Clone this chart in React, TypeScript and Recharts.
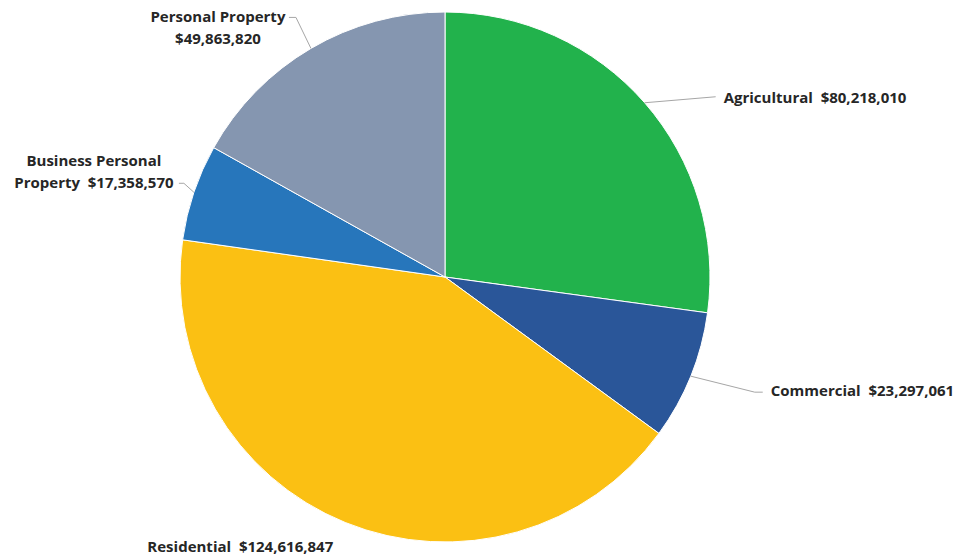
import { PieChart, Pie, Cell } from "recharts";

const categories = ["Agricultural", "Commercial", "Residential", "Business Personal Property", "Personal Property"];
const values = [80218010, 23297061, 124616847, 17358570, 49863820];
const colors = ["#22b24c", "#2a5699", "#fbc013", "#2776bb", "#8596b0"];

const data = categories.map((name, i) => ({ name, value: values[i] }));

const fmt = (v: number) => "$" + v.toLocaleString("en-US");
const gap = "\u00a0 ";

const RAD = Math.PI / 180;
const textStyle = { fontFamily: "'Open Sans', sans-serif", fontWeight: 700, fontSize: 15, fill: "#262626" } as const;
const lineColor = "#a6a6a6";

function renderLabel(props: any) {
  const { cx, cy, midAngle, outerRadius, index } = props;
  const ex = cx + outerRadius * Math.cos(-midAngle * RAD);
  const ey = cy + outerRadius * Math.sin(-midAngle * RAD);
  const name = categories[index];
  const val = fmt(values[index]);

  if (index === 0) {
    return (
      <g>
        <polyline points={`${ex},${ey} ${ex + 71},${ey - 6}`} stroke={lineColor} fill="none" />
        <text x={ex + 79} y={ey - 6} dominantBaseline="central" style={textStyle}>{name + gap + val}</text>
      </g>
    );
  }
  if (index === 1) {
    return (
      <g>
        <polyline points={`${ex},${ey} ${ex + 64},${ey + 16} ${ex + 72},${ey + 16}`} stroke={lineColor} fill="none" />
        <text x={ex + 80} y={ey + 14} dominantBaseline="central" style={textStyle}>{name + gap + val}</text>
      </g>
    );
  }
  if (index === 2) {
    return (
      <text x={ex - 12} y={ey + 24} textAnchor="end" dominantBaseline="central" style={textStyle}>{name + gap + val}</text>
    );
  }
  if (index === 3) {
    return (
      <g>
        <polyline points={`${ex},${ey} ${ex - 10},${ey - 9} ${ex - 15},${ey - 9}`} stroke={lineColor} fill="none" />
        <text x={ex - 100} y={ey - 32} textAnchor="middle" dominantBaseline="central" style={textStyle}>Business Personal</text>
        <text x={ex - 100} y={ey - 10} textAnchor="middle" dominantBaseline="central" style={textStyle}>{"Property" + gap + val}</text>
      </g>
    );
  }
  return (
    <g>
      <polyline points={`${ex},${ey} ${ex - 15},${ey - 31} ${ex - 22},${ey - 31}`} stroke={lineColor} fill="none" />
      <text x={ex - 93} y={ey - 32} textAnchor="middle" dominantBaseline="central" style={textStyle}>{name}</text>
      <text x={ex - 93} y={ey - 10} textAnchor="middle" dominantBaseline="central" style={textStyle}>{val}</text>
    </g>
  );
}

export default function App() {
  return (
    <div style={{ position: "absolute", left: 0, top: 0, background: "#fff" }}>
      <PieChart width={961} height={558} margin={{ top: 0, right: 0, bottom: 0, left: 0 }}>
        <Pie
          data={data}
          dataKey="value"
          nameKey="name"
          cx={445}
          cy={277}
          outerRadius={265}
          startAngle={90}
          endAngle={-270}
          stroke="#fff"
          strokeWidth={1}
          label={renderLabel}
          labelLine={false}
          isAnimationActive={false}
        >
          {data.map((d, i) => (
            <Cell key={d.name} fill={colors[i]} />
          ))}
        </Pie>
      </PieChart>
    </div>
  );
}
